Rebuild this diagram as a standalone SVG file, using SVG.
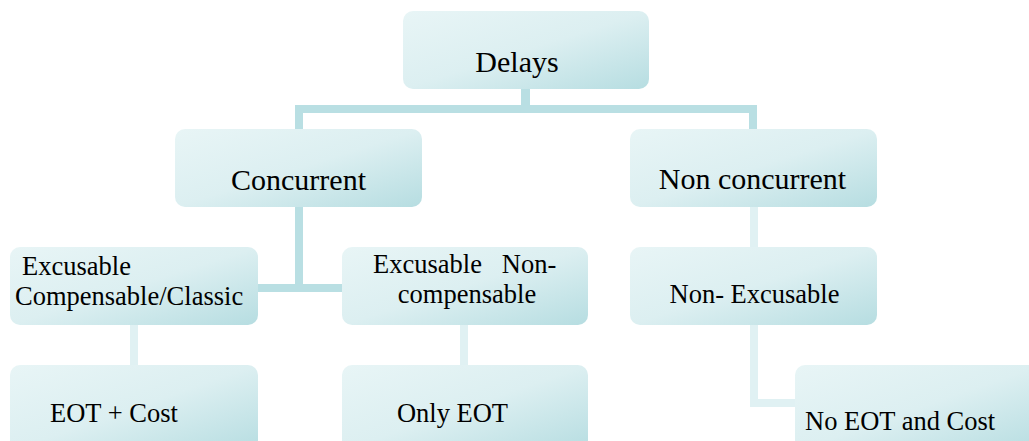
<svg xmlns="http://www.w3.org/2000/svg" width="1029" height="441" viewBox="0 0 1029 441">
  <defs>
    <linearGradient id="boxFill" x1="0" y1="0" x2="1" y2="1">
      <stop offset="0" stop-color="#e8f5f6"/>
      <stop offset="0.5" stop-color="#dcefF1"/>
      <stop offset="1" stop-color="#b6dde1"/>
    </linearGradient>
  </defs>
  <style>
    .box { fill: url(#boxFill); }
    .dark { fill: #b9dfe3; }
    .light { fill: #e0f1f3; }
  </style>

  <!-- connectors -->
  <g id="connectors">
    <rect class="dark" x="521" y="89" width="9" height="20"/>
    <rect class="dark" x="295" y="105" width="462" height="8"/>
    <rect class="dark" x="295" y="105" width="8" height="24"/>
    <rect class="dark" x="749" y="105" width="8" height="24"/>
    <rect class="dark" x="295" y="207" width="8" height="84"/>
    <rect class="dark" x="258" y="284" width="84" height="8"/>
    <rect class="light" x="750" y="207" width="8" height="40"/>
    <rect class="light" x="130" y="325" width="8" height="40"/>
    <rect class="light" x="460" y="325" width="8" height="40"/>
    <rect class="light" x="750" y="325" width="8" height="82"/>
    <rect class="light" x="750" y="399" width="45" height="8"/>
  </g>

  <g font-family="'Liberation Serif', 'Times New Roman', 'DejaVu Serif', serif" fill="#000">
    <g id="delays">
      <rect class="box" x="403" y="11" width="246" height="78" rx="10"/>
      <text x="517" y="72" font-size="30" text-anchor="middle">Delays</text>
    </g>

    <g id="concurrent">
      <rect class="box" x="175" y="129" width="247" height="78" rx="10"/>
      <text x="298.5" y="190" font-size="30" text-anchor="middle">Concurrent</text>
    </g>

    <g id="non-concurrent">
      <rect class="box" x="630" y="129" width="247" height="78" rx="10"/>
      <text x="752.5" y="189" font-size="30" text-anchor="middle">Non concurrent</text>
    </g>

    <g id="excusable-compensable">
      <rect class="box" x="10" y="247" width="248" height="78" rx="10"/>
      <text x="22" y="275" font-size="26.5">Excusable</text>
      <text x="15" y="305" font-size="26.5">Compensable/Classic</text>
    </g>

    <g id="excusable-non-compensable">
      <rect class="box" x="342" y="247" width="246" height="78" rx="10"/>
      <text x="373" y="273" font-size="26.5" xml:space="preserve">Excusable   Non-</text>
      <text x="467" y="303" font-size="26.5" text-anchor="middle">compensable</text>
    </g>

    <g id="non-excusable">
      <rect class="box" x="630" y="247" width="247" height="78" rx="10"/>
      <text x="754.5" y="303" font-size="26.5" text-anchor="middle">Non- Excusable</text>
    </g>

    <g id="eot-cost">
      <rect class="box" x="10" y="365" width="248" height="86" rx="10"/>
      <text x="50" y="422" font-size="26.5">EOT + Cost</text>
    </g>

    <g id="only-eot">
      <rect class="box" x="342" y="365" width="246" height="86" rx="10"/>
      <text x="452.5" y="422" font-size="26.5" text-anchor="middle">Only EOT</text>
    </g>

    <g id="no-eot-cost">
      <rect class="box" x="795" y="365" width="247" height="86" rx="10"/>
      <text x="805" y="430" font-size="26.5">No EOT and Cost</text>
    </g>
  </g>
</svg>
